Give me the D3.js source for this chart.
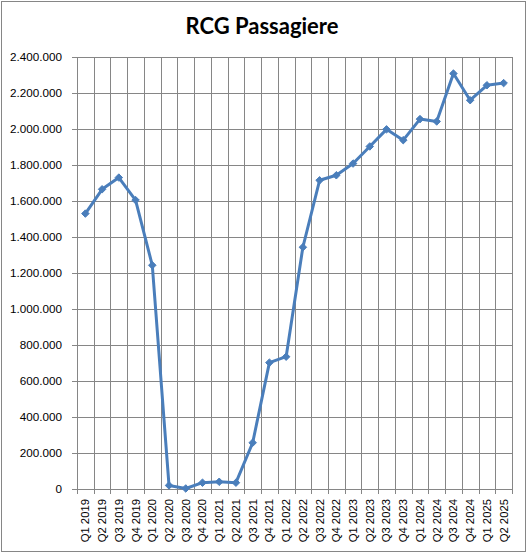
<!DOCTYPE html>
<html lang="de">
<head>
<meta charset="UTF-8">
<title>RCG Passagiere</title>
<script src="https://d3js.org/d3.v7.min.js"></script>
<style>
    body { margin: 0; background: #fff; }
    .title { font-family: Lato, "Open Sans", sans-serif; font-weight: bold; font-size: 22px; fill: #000; }
    .axis path, .axis line { stroke: #868686; }
    .grid line { stroke: #868686; stroke-width: 1px; }
    .line { fill: none; stroke: #4a7ebb; stroke-width: 3px; stroke-linejoin: round; }
    .marker { fill: #4a7ebb; stroke: #4a7ebb; stroke-width: 1px; }
</style>
</head>
<body>
<svg id="chart"></svg>
<script>
    // Quarters on the x axis
    const quarters = [
        "Q1 2019", "Q2 2019", "Q3 2019", "Q4 2019",
        "Q1 2020", "Q2 2020", "Q3 2020", "Q4 2020",
        "Q1 2021", "Q2 2021", "Q3 2021", "Q4 2021",
        "Q1 2022", "Q2 2022", "Q3 2022", "Q4 2022",
        "Q1 2023", "Q2 2023", "Q3 2023", "Q4 2023",
        "Q1 2024", "Q2 2024", "Q3 2024", "Q4 2024",
        "Q1 2025", "Q2 2025"
    ];

    // Passengers per quarter
    const passengers = [
        1530000, 1665000, 1730000, 1605000,
        1243000, 20000, 3000, 35000,
        40000, 35000, 257000, 702000,
        735000, 1343000, 1715000, 1743000,
        1808000, 1903000, 1998000, 1938000,
        2055000, 2042000, 2308000, 2160000,
        2243000, 2255000
    ];

    const yTicks = [0, 200000, 400000, 600000, 800000, 1000000, 1200000,
                    1400000, 1600000, 1800000, 2000000, 2200000, 2400000];

    const width = 527, height = 553;
    const margin = { top: 57, right: 15, bottom: 64, left: 77 };
    const innerW = width - margin.left - margin.right;
    const innerH = height - margin.top - margin.bottom;

    const svg = d3.select("#chart")
        .attr("width", width)
        .attr("height", height);

    // outer chart border
    svg.append("rect")
        .attr("x", 1.5).attr("y", 1.5)
        .attr("width", width - 3).attr("height", height - 3)
        .attr("fill", "#fff")
        .attr("stroke", "#868686");

    svg.append("text")
        .attr("class", "title")
        .attr("x", 262)
        .attr("y", 34)
        .attr("text-anchor", "middle")
        .text("RCG Passagiere");

    const g = svg.append("g")
        .attr("transform", "translate(" + margin.left + "," + margin.top + ")");

    const x = d3.scaleBand()
        .domain(quarters)
        .range([0, innerW])
        .padding(0);

    const y = d3.scaleLinear()
        .domain([0, 2400000])
        .range([innerH, 0]);

    const fmt = d3.formatLocale({ decimal: ",", thousands: ".", grouping: [3], currency: ["", "€"] }).format(",.0f");

    // horizontal gridlines
    g.append("g").attr("class", "grid")
        .selectAll("line")
        .data(yTicks)
        .enter().append("line")
        .attr("x1", 0).attr("x2", innerW)
        .attr("y1", d => Math.round(y(d)) + 0.5)
        .attr("y2", d => Math.round(y(d)) + 0.5);

    // vertical gridlines at category boundaries
    const bounds = quarters.map(q => x(q)).concat([innerW]);
    g.append("g").attr("class", "grid")
        .selectAll("line")
        .data(bounds)
        .enter().append("line")
        .attr("x1", d => Math.round(d) + 0.5).attr("x2", d => Math.round(d) + 0.5)
        .attr("y1", 0).attr("y2", innerH + 5);

    // y axis
    const yAxis = g.append("g")
        .attr("class", "axis")
        .call(d3.axisLeft(y).tickValues(yTicks).tickFormat(fmt).tickSize(5).tickPadding(10));
    yAxis.attr("font-family", "'Liberation Sans', Arial, sans-serif")
        .attr("font-size", 11.7);
    yAxis.select(".domain").remove();
    yAxis.selectAll("text").attr("fill", "#000");

    // x axis
    const xAxis = g.append("g")
        .attr("class", "axis")
        .attr("transform", "translate(0," + innerH + ")")
        .call(d3.axisBottom(x).tickSize(0).tickPadding(0));
    xAxis.attr("font-family", "'Liberation Sans', Arial, sans-serif")
        .attr("font-size", 11.3);
    xAxis.select(".domain").remove();
    xAxis.selectAll("text")
        .attr("fill", "#000")
        .attr("transform", "rotate(-90)")
        .attr("text-anchor", "end")
        .attr("dy", "0.35em")
        .attr("x", -10)
        .attr("y", 0);

    const cx = (d, i) => x(quarters[i]) + x.bandwidth() / 2;

    const line = d3.line()
        .x(cx)
        .y(d => y(d));

    g.append("path")
        .datum(passengers)
        .attr("class", "line")
        .attr("d", line);

    g.selectAll(".marker")
        .data(passengers)
        .enter().append("path")
        .attr("class", "marker")
        .attr("d", d3.symbol().type(d3.symbolDiamond2).size(36))
        .attr("transform", (d, i) => "translate(" + cx(d, i) + "," + y(d) + ")");
</script>
</body>
</html>
